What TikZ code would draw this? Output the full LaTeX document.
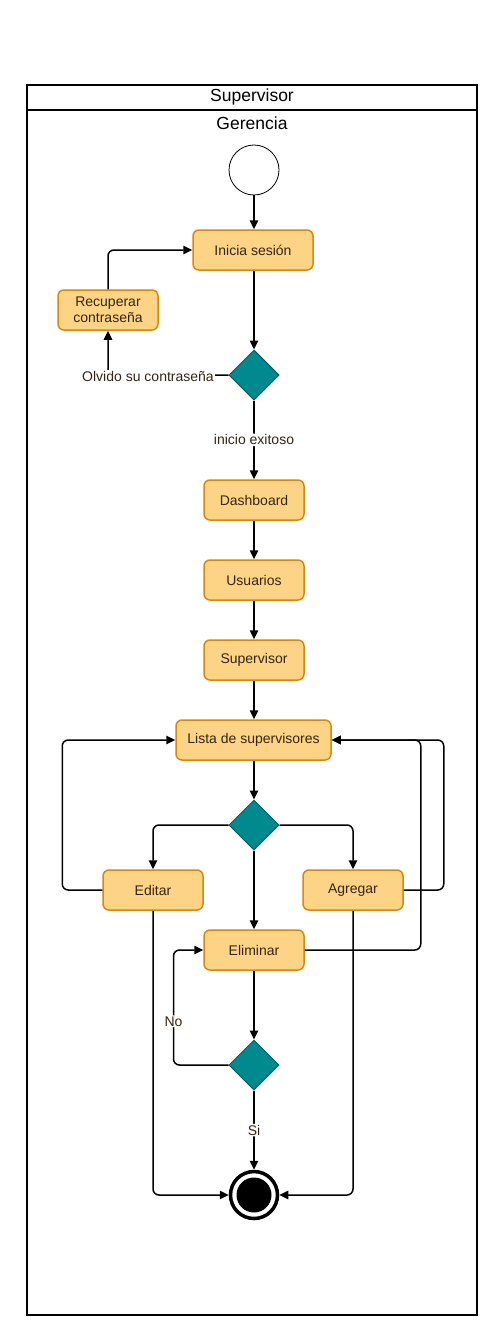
\documentclass[tikz,border=0pt]{standalone}
\usepackage{fontspec}
\setmainfont{Liberation Sans}
\usetikzlibrary{shapes.geometric,arrows.meta}
\definecolor{boxfill}{RGB}{253,211,133}
\definecolor{boxdraw}{RGB}{214,137,16}
\definecolor{dfill}{RGB}{0,137,143}
\definecolor{ddraw}{RGB}{14,95,96}
\definecolor{txt}{RGB}{51,38,20}
\tikzset{
  actbox/.style={draw=boxdraw,fill=boxfill,line width=1.5pt,rounded corners=6pt,minimum width=100pt,minimum height=40pt,inner sep=0pt,align=center,text=txt,font=\fontsize{14}{16}\selectfont},
  decis/.style={diamond,draw=ddraw,fill=dfill,line width=1pt,minimum width=50pt,minimum height=50pt,inner sep=0pt},
  conn/.style={line width=1.5pt,rounded corners=6pt,-{Triangle[length=9pt,width=8.5pt]}},
  lbl/.style={fill=white,text=txt,inner sep=1pt,font=\fontsize{14}{15.5}\selectfont},
  hdr/.style={font=\fontsize{17.5}{19}\selectfont}
}
\begin{document}
\begin{tikzpicture}[x=1pt,y=-1pt]
\useasboundingbox (0,0) rectangle (499,1335);
% frame
\draw[line width=1.3pt] (27,85) rectangle (477,1315);
\draw[line width=1.3pt] (27,110) -- (477,110);
\node[hdr] (t1) at (252,97) {Supervisor};
\node[hdr] (t2) at (252,123) {Gerencia};
% nodes
\node[circle,draw,line width=0.8pt,minimum size=50pt,inner sep=0pt] (start) at (254,170) {};
\node[actbox,minimum width=120pt] (ini) at (253,250) {Inicia sesión};
\node[actbox] (rec) at (108,310) {Recuperar\\contraseña};
\node[decis] (d1) at (254,375) {};
\node[actbox] (dash) at (254,500) {Dashboard};
\node[actbox] (usu) at (254,580) {Usuarios};
\node[actbox] (sup) at (254,660) {Supervisor};
\node[actbox,minimum width=155pt] (lista) at (253.5,740) {Lista de supervisores};
\node[decis] (d2) at (254,825) {};
\node[actbox] (edit) at (153,890) {Editar};
\node[actbox] (agr) at (353,890) {Agregar};
\node[actbox] (elim) at (254,950) {Eliminar};
\node[decis] (d3) at (254,1065) {};
\node[circle,draw,line width=3.5pt,minimum size=47pt,inner sep=0pt] (fin) at (254,1195) {};
\fill (fin.center) circle (17.5pt);
% connectors
\draw[conn] (start) -- (start |- ini.north);
\draw[conn] (d1 |- ini.south) -- (d1);
\draw[conn] (d1.west) -| (rec.south);
\node[lbl] (l1) at (148,376) {Olvido su contraseña};
\draw[conn] (rec.north) |- (ini.west);
\draw[conn] (d1.south) -- node[lbl] (l2) {inicio exitoso} (dash.north);
\draw[conn] (dash) -- (usu);
\draw[conn] (usu) -- (sup);
\draw[conn] (sup) -- (sup |- lista.north);
\draw[conn] (d2 |- lista.south) -- (d2);
\draw[conn] (d2.west) -| (edit.north);
\draw[conn] (d2.east) -| (agr.north);
\draw[conn] (d2.south) -- (elim.north);
\draw[conn] (edit.west) -- ++(-40,0) |- (lista.west);
\draw[conn] (agr.east) -- ++(40,0) |- (lista.east);
\draw[conn] (elim.east) -- ++(116,0) |- (lista.east);
\draw[conn] (edit.south) |- (fin.west);
\draw[conn] (agr.south) |- (fin.east);
\draw[conn] (elim) -- (d3);
\draw[conn] (d3.west) -- ++(-55,0) |- node[lbl,pos=0.19] (l3) {No} (elim.west);
\draw[conn] (d3.south) -- node[lbl,pos=0.5] (l4) {Si} (fin.north);
\end{tikzpicture}
\end{document}
